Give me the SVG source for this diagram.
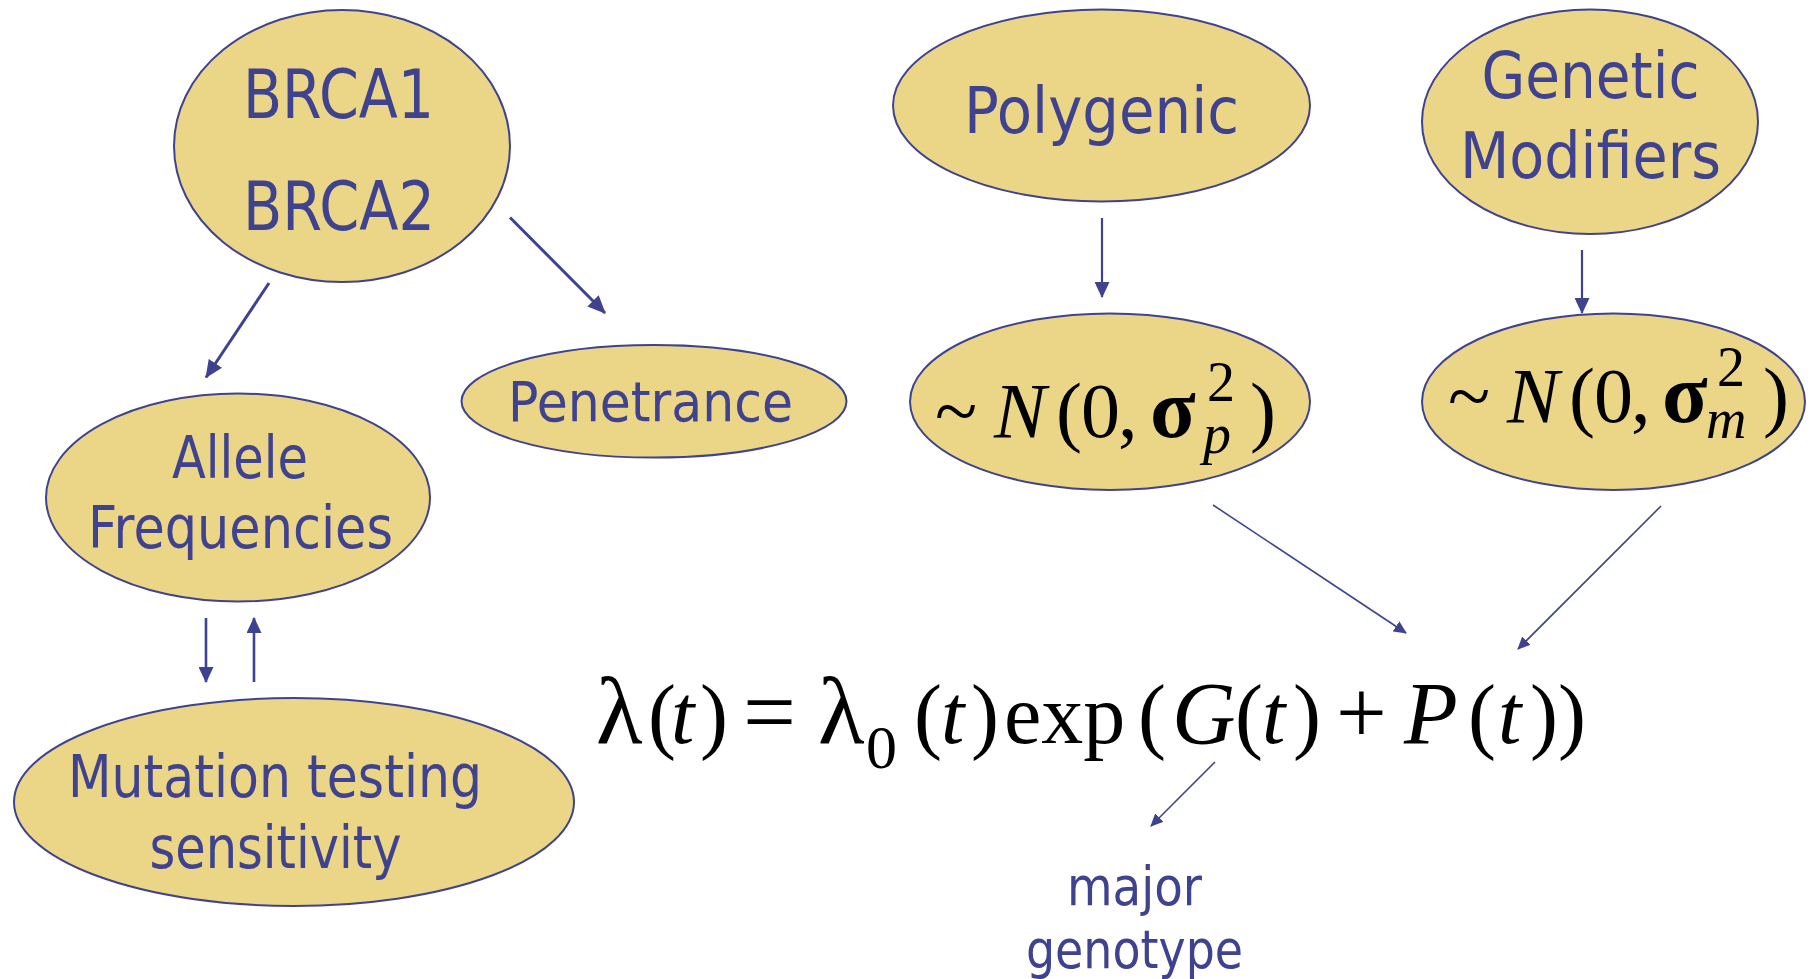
<svg xmlns="http://www.w3.org/2000/svg" width="1811" height="979" viewBox="0 0 1811 979">
<defs>
<style>
.node ellipse{fill:#EAD686;stroke:#3F438F;stroke-width:2}
.lbl{font-family:"DejaVu Sans","Liberation Sans",sans-serif;fill:#3F428F}
.math{font-family:"Liberation Serif","DejaVu Serif",serif;fill:#000}
.it{font-style:italic}
.sig{font-weight:bold}
.conn line{stroke:#3F438F;fill:none}
</style>
<marker id="ahL" markerUnits="userSpaceOnUse" markerWidth="18" markerHeight="16" refX="17" refY="8" orient="auto"><path d="M0,0 L18,8 L0,16 z" fill="#3F438F"/></marker>
<marker id="ahM" markerUnits="userSpaceOnUse" markerWidth="16" markerHeight="15" refX="15" refY="7.5" orient="auto"><path d="M0,0 L16,7.5 L0,15 z" fill="#3F438F"/></marker>
<marker id="ahS" markerUnits="userSpaceOnUse" markerWidth="13" markerHeight="12" refX="12" refY="6" orient="auto"><path d="M0,0 L13,6 L0,12 z" fill="#3F438F"/></marker>
</defs>
<rect width="1811" height="979" fill="#fff"/>

<g id="brca" class="node">
<ellipse cx="342" cy="146" rx="168" ry="136"/>
<text class="lbl" x="243" y="118" font-size="68" textLength="191" lengthAdjust="spacingAndGlyphs">BRCA1</text>
<text class="lbl" x="243" y="230" font-size="68" textLength="192" lengthAdjust="spacingAndGlyphs">BRCA2</text>
</g>

<g id="allele" class="node">
<ellipse cx="238" cy="497.5" rx="192" ry="104"/>
<text class="lbl" x="172" y="478" font-size="58" textLength="136" lengthAdjust="spacingAndGlyphs">Allele</text>
<text class="lbl" x="88" y="548" font-size="58" textLength="305" lengthAdjust="spacingAndGlyphs">Frequencies</text>
</g>

<g id="penetrance" class="node">
<ellipse cx="654" cy="401.3" rx="192.5" ry="56.3"/>
<text class="lbl" x="508" y="420.7" font-size="56" textLength="285" lengthAdjust="spacingAndGlyphs">Penetrance</text>
</g>

<g id="mutation" class="node">
<ellipse cx="294" cy="802" rx="280" ry="104"/>
<text class="lbl" x="68" y="797" font-size="58" textLength="414" lengthAdjust="spacingAndGlyphs">Mutation testing</text>
<text class="lbl" x="149.5" y="868" font-size="58" textLength="252" lengthAdjust="spacingAndGlyphs">sensitivity</text>
</g>

<g id="polygenic" class="node">
<ellipse cx="1101.5" cy="105.5" rx="208.5" ry="96"/>
<text class="lbl" x="964" y="133" font-size="64" textLength="275" lengthAdjust="spacingAndGlyphs">Polygenic</text>
</g>

<g id="modifiers" class="node">
<ellipse cx="1590" cy="121.7" rx="168" ry="112.3"/>
<text class="lbl" x="1481.5" y="98" font-size="64" textLength="218" lengthAdjust="spacingAndGlyphs">Genetic</text>
<text class="lbl" x="1460" y="177.7" font-size="64" textLength="261" lengthAdjust="spacingAndGlyphs">Modifiers</text>
</g>

<g id="normal-p" class="node">
<ellipse cx="1110" cy="401.7" rx="200" ry="88.3"/>
<text class="math" font-size="78" y="436.7"><tspan x="935">~</tspan><tspan class="it" x="994">N</tspan><tspan x="1056">(</tspan><tspan x="1081">0</tspan><tspan x="1118">,</tspan><tspan class="sig" font-size="84" x="1150">σ</tspan><tspan x="1250">)</tspan></text>
<text class="math" font-size="56" x="1207" y="401">2</text>
<text class="math it" font-size="56" x="1203" y="453">p</text>
</g>

<g id="normal-m" class="node">
<ellipse cx="1613.5" cy="401.7" rx="191.5" ry="88.3"/>
<text class="math" font-size="78" y="421.7"><tspan x="1448">~</tspan><tspan class="it" x="1507">N</tspan><tspan x="1569">(</tspan><tspan x="1594">0</tspan><tspan x="1631">,</tspan><tspan class="sig" font-size="84" x="1662">σ</tspan><tspan x="1763">)</tspan></text>
<text class="math" font-size="56" x="1717" y="386">2</text>
<text class="math it" font-size="56" x="1706" y="438">m</text>
</g>

<g id="formula">
<text class="math" font-size="84" y="743"><tspan font-size="96" x="596">λ</tspan><tspan x="648">(</tspan><tspan class="it" x="671">t</tspan><tspan x="700">)</tspan><tspan font-size="94" x="743">=</tspan><tspan font-size="96" x="818">λ</tspan><tspan x="914">(</tspan><tspan class="it" x="941">t</tspan><tspan x="971">)</tspan><tspan x="1004">exp</tspan><tspan x="1138">(</tspan><tspan class="it" font-size="88" x="1172">G</tspan><tspan x="1235">(</tspan><tspan class="it" x="1262">t</tspan><tspan x="1293">)</tspan><tspan font-size="90" x="1336">+</tspan><tspan class="it" font-size="88" x="1404">P</tspan><tspan x="1468">(</tspan><tspan class="it" x="1498">t</tspan><tspan x="1530">)</tspan><tspan x="1558">)</tspan></text>
<text class="math" font-size="62" x="866" y="768">0</text>
</g>

<g id="major-genotype">
<text class="lbl" x="1067" y="905" font-size="54" textLength="135" lengthAdjust="spacingAndGlyphs">major</text>
<text class="lbl" x="1026" y="968" font-size="54" textLength="217" lengthAdjust="spacingAndGlyphs">genotype</text>
</g>

<g id="connectors" class="conn">
<line x1="269" y1="283" x2="206" y2="377.5" stroke-width="3" marker-end="url(#ahL)"/>
<line x1="510" y1="217.5" x2="605" y2="313" stroke-width="3" marker-end="url(#ahL)"/>
<line x1="206" y1="618" x2="206" y2="682" stroke-width="2.6" marker-end="url(#ahM)"/>
<line x1="254" y1="682" x2="254" y2="618" stroke-width="2.6" marker-end="url(#ahM)"/>
<line x1="1102" y1="218" x2="1102" y2="297" stroke-width="2.2" marker-end="url(#ahM)"/>
<line x1="1582" y1="250" x2="1582" y2="313" stroke-width="2.2" marker-end="url(#ahM)"/>
<line x1="1213" y1="505" x2="1406" y2="633" stroke-width="1.6" marker-end="url(#ahS)"/>
<line x1="1661" y1="506" x2="1518" y2="649" stroke-width="1.6" marker-end="url(#ahS)"/>
<line x1="1215" y1="762" x2="1151" y2="826" stroke-width="1.6" marker-end="url(#ahS)"/>
</g>
</svg>
